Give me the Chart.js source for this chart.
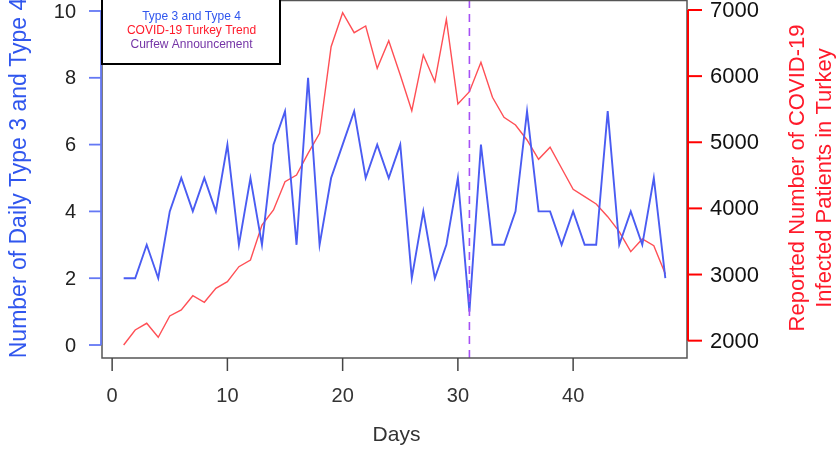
<!DOCTYPE html>
<html>
<head>
<meta charset="utf-8">
<style>
  html, body { margin: 0; padding: 0; background: #ffffff; }
  #wrap { width: 838px; height: 455px; position: relative; }
</style>
<script src="https://cdn.jsdelivr.net/npm/chart.js@4.4.1/dist/chart.umd.min.js"></script>
</head>
<body>
<div id="wrap"><canvas id="c" width="838" height="455"></canvas></div>
<script>
// ---- data ----
const days = [1,2,3,4,5,6,7,8,9,10,11,12,13,14,15,16,17,18,19,20,21,22,23,24,25,26,27,28,29,30,31,32,33,34,35,36,37,38,39,40,41,42,43,44,45,46,47,48];
const type34 = [2,2,3,2,4,5,4,5,4,6,3,5,3,6,7,3,8,3,5,6,7,5,6,5,6,2,4,2,3,5,1,6,3,3,4,7,4,4,3,4,3,3,7,3,4,3,5,2];
const covidTurkey = [1935,2162,2263,2051,2373,2464,2680,2580,2792,2892,3119,3220,3749,3976,4404,4505,4833,5136,6445,6959,6657,6758,6118,6536,6017,5477,6320,5916,6859,5579,5765,6209,5680,5378,5261,5034,4743,4924,4607,4289,4177,4067,3875,3648,3346,3538,3436,3008];
const curfewDay = [31];
const xTicks = [0,10,20,30,40];
const leftTicks = [0,2,4,6,8,10];
const rightTicks = [2000,3000,4000,5000,6000,7000];
const legendLabels = ["Type 3 and Type 4", "COVID-19 Turkey Trend", "Curfew Announcement"];
const xTitle = "Days";
const leftTitle = "Number of Daily Type 3 and Type 4";
const rightTitle = ["Reported Number of COVID-19", "Infected Patients in Turkey"];

// axis limits
const X_MIN = -0.88, X_MAX = 49.88;
const Y_MIN = -0.389, Y_MAX = 10.329;
const Y2_MIN = 1738, Y2_MAX = 7151;

const FONT = '"Liberation Sans", Arial, Helvetica, sans-serif';
const COL_BLUE_LINE = '#4a5cf2';
const COL_RED_LINE = '#ff4f55';
const COL_BLUE_TXT = '#3056ee';
const COL_RED_TXT = '#ff1a2a';
const COL_PURPLE_TXT = '#7434a6';

const decor = {
  id: 'decor',
  afterDraw(chart) {
    const { ctx, chartArea: ca, scales } = chart;
    const x = scales.x, y = scales.y, y2 = scales.y2;
    ctx.save();

    // plot box
    ctx.strokeStyle = '#555555';
    ctx.lineWidth = 1.5;
    ctx.strokeRect(ca.left, ca.top + 0.5, ca.right - ca.left, ca.bottom - ca.top - 0.5);

    // x axis ticks + labels
    ctx.strokeStyle = '#444444';
    ctx.lineWidth = 1.5;
    ctx.fillStyle = '#333333';
    ctx.font = '20px ' + FONT;
    ctx.textAlign = 'center';
    ctx.textBaseline = 'middle';
    xTicks.forEach(v => {
      const px = x.getPixelForValue(v);
      ctx.beginPath();
      ctx.moveTo(px, ca.bottom);
      ctx.lineTo(px, ca.bottom + 13);
      ctx.stroke();
      ctx.fillText(String(v), px, 396);
    });
    ctx.font = '21px ' + FONT;
    ctx.fillText(xTitle, (ca.left + ca.right) / 2 + 2, 435);

    // left axis (blue)
    const lx = ca.left - 1;
    ctx.strokeStyle = '#6478f4';
    ctx.lineWidth = 1.8;
    ctx.beginPath();
    ctx.moveTo(lx, y.getPixelForValue(leftTicks[0]));
    ctx.lineTo(lx, y.getPixelForValue(leftTicks[leftTicks.length - 1]));
    ctx.stroke();
    ctx.fillStyle = '#222222';
    ctx.font = '20px ' + FONT;
    ctx.textAlign = 'right';
    leftTicks.forEach(v => {
      const py = y.getPixelForValue(v);
      ctx.beginPath();
      ctx.moveTo(lx - 12, py);
      ctx.lineTo(lx, py);
      ctx.stroke();
      ctx.fillText(String(v), 76, py + 1);
    });

    // right axis (red)
    const rx = ca.right + 1;
    ctx.strokeStyle = '#ff0000';
    ctx.lineWidth = 2;
    ctx.beginPath();
    ctx.moveTo(rx, y2.getPixelForValue(rightTicks[0]));
    ctx.lineTo(rx, y2.getPixelForValue(rightTicks[rightTicks.length - 1]));
    ctx.stroke();
    ctx.fillStyle = '#111111';
    ctx.font = '22px ' + FONT;
    ctx.textAlign = 'left';
    rightTicks.forEach(v => {
      const py = y2.getPixelForValue(v);
      ctx.beginPath();
      ctx.moveTo(rx, py);
      ctx.lineTo(rx + 14, py);
      ctx.stroke();
      ctx.fillText(String(v), 710, py + 1);
    });

    // axis titles
    const midY = (ca.top + ca.bottom) / 2 - 1;
    ctx.textAlign = 'center';
    ctx.textBaseline = 'middle';
    ctx.font = '23px ' + FONT;
    ctx.fillStyle = COL_BLUE_TXT;
    ctx.save();
    ctx.translate(20, midY);
    ctx.rotate(-Math.PI / 2);
    ctx.fillText(leftTitle, 0, 0);
    ctx.restore();

    ctx.font = '22px ' + FONT;
    ctx.fillStyle = COL_RED_TXT;
    ctx.save();
    ctx.translate(798, midY);
    ctx.rotate(-Math.PI / 2);
    ctx.fillText(rightTitle[0], 0, 0);
    ctx.restore();
    ctx.save();
    ctx.translate(825, midY);
    ctx.rotate(-Math.PI / 2);
    ctx.fillText(rightTitle[1], 0, 0);
    ctx.restore();

    // legend box
    ctx.fillStyle = '#ffffff';
    ctx.fillRect(ca.left, -5, 280 - ca.left, 69);
    ctx.strokeStyle = '#000000';
    ctx.lineWidth = 2;
    ctx.strokeRect(ca.left, -5, 280 - ca.left, 69);
    ctx.font = '12px ' + FONT;
    ctx.textAlign = 'center';
    const lcx = (ca.left + 280) / 2 + 0.5;
    const cols = [COL_BLUE_TXT, COL_RED_TXT, COL_PURPLE_TXT];
    const ys = [16.5, 30.5, 44.5];
    legendLabels.forEach((t, i) => {
      ctx.fillStyle = cols[i];
      ctx.fillText(t, lcx, ys[i]);
    });

    ctx.restore();
  }
};

const blueData = days.map((d, i) => ({ x: d, y: type34[i] }));
const redData = days.map((d, i) => ({ x: d, y: covidTurkey[i] }));
const curfewData = [{ x: curfewDay[0], y: Y_MIN }, { x: curfewDay[0], y: Y_MAX }];

new Chart(document.getElementById('c'), {
  type: 'line',
  data: {
    datasets: [
      {
        label: legendLabels[2],
        data: curfewData,
        yAxisID: 'y',
        borderColor: '#a650f5',
        borderWidth: 1.6,
        borderDash: [8, 6],
        pointRadius: 0,
        fill: false,
        order: 0
      },
      {
        label: legendLabels[1],
        data: redData,
        yAxisID: 'y2',
        borderColor: COL_RED_LINE,
        borderWidth: 1.4,
        pointRadius: 0,
        tension: 0,
        fill: false,
        order: 2
      },
      {
        label: legendLabels[0],
        data: blueData,
        yAxisID: 'y',
        borderColor: COL_BLUE_LINE,
        borderWidth: 1.9,
        pointRadius: 0,
        tension: 0,
        fill: false,
        order: 1
      }
    ]
  },
  options: {
    responsive: false,
    animation: false,
    events: [],
    layout: { padding: { left: 102, right: 151, top: 0, bottom: 97 } },
    plugins: { legend: { display: false }, tooltip: { enabled: false }, title: { display: false } },
    scales: {
      x: { type: 'linear', display: false, min: X_MIN, max: X_MAX },
      y: { type: 'linear', display: false, min: Y_MIN, max: Y_MAX },
      y2: { type: 'linear', display: false, min: Y2_MIN, max: Y2_MAX, position: 'right' }
    }
  },
  plugins: [decor]
});
</script>
</body>
</html>
